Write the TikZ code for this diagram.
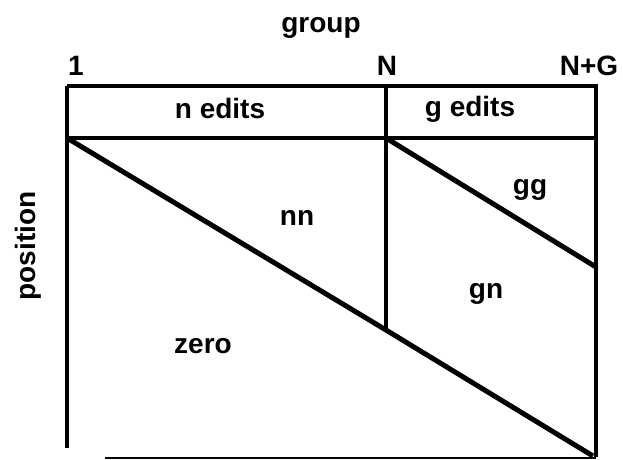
\documentclass[tikz,border=0pt]{standalone}
\usepackage{fontspec}
\setmainfont{Liberation Sans}
\usetikzlibrary{positioning}

\begin{document}
\begin{tikzpicture}[x=1pt,y=-1pt,font=\bfseries\fontsize{28}{32}\selectfont,
 lbl/.style={inner sep=0pt,anchor=base},
 wall/.style={line width=3.6pt},
 cut/.style={line width=5pt}]
 \useasboundingbox (0,0) rectangle (623,459);
 % corners of the table
 \coordinate (tl) at (67,86);
 \coordinate (tm) at (386,86);
 \coordinate (tr) at (596,86);
 \coordinate (hl) at (67,138);
 \coordinate (hm) at (386,138);
 \coordinate (hr) at (596,138);
 \coordinate (bl) at (67,448);
 \coordinate (br) at (596,457);
 \coordinate (mid) at (386,330);
 \coordinate (dg) at (593,456);
 \coordinate (gg) at (596,267);
 \coordinate (bs) at (105,458);
 \coordinate (be) at (596,458);
 % header
 \draw[wall](tl)--(tr)--(br);
 \draw[wall](tl)--(bl);
 \draw[wall](hl)--(hr);
 \draw[wall](tm)--(mid);
 \draw[line width=1.8pt](bs)--(be);
 % diagonals
 \draw[cut](hl)--(mid)--(dg);
 \draw[cut](hm)--(gg);
 % labels
 \node[lbl](group) at (321,32){group};
 \node[lbl](one) at (76,75){1};
 \node[lbl](nn1) at (387,75){N};
 \node[lbl](ng) at (589,75){N+G};
 \node[lbl](ned) at (220,118){n edits};
 \node[lbl](ged) at (470,116){g edits};
 \node[lbl](nn) at (297,225){nn};
 \node[lbl](ggl) at (530,194){gg};
 \node[lbl](gn) at (486,298){gn};
 \node[lbl](zero) at (203,353){zero};
 \node[inner sep=0pt,rotate=90](pos) at (28,246){position};
\end{tikzpicture}
\end{document}
